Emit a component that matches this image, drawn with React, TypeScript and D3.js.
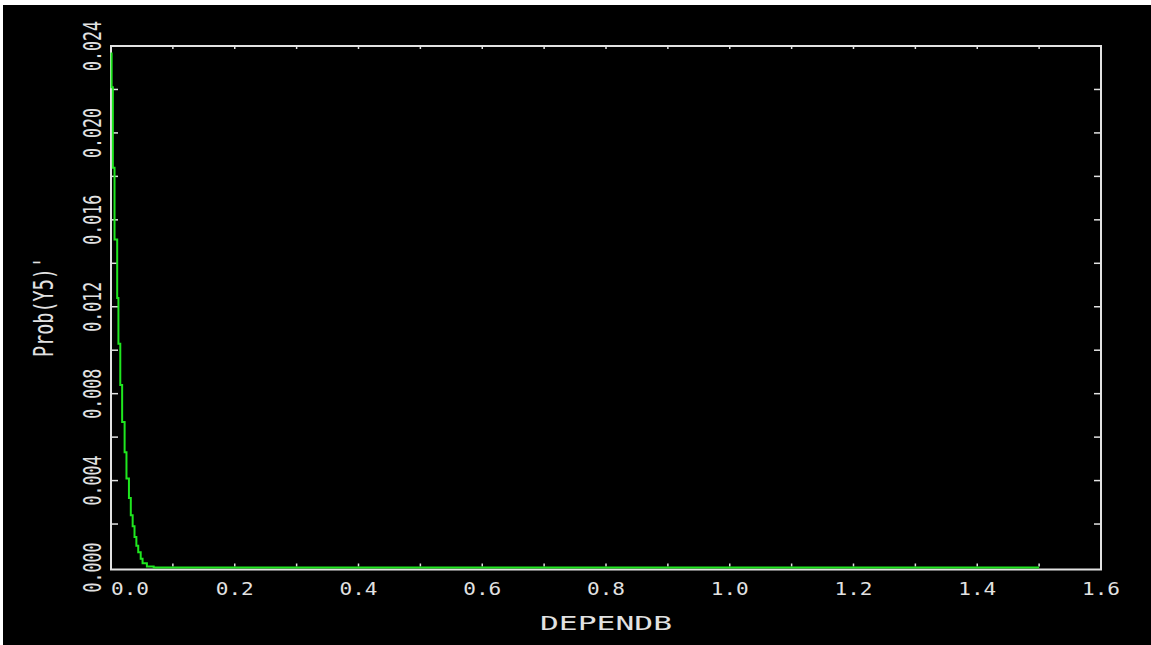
import React, { useRef, useEffect } from 'react';
import * as d3 from 'd3';

// stepped density (x in DEPENDB units, y = Prob(Y5)')
const curveX = [0.001, 0.001, 0.003, 0.0057, 0.010, 0.012, 0.015, 0.018, 0.022, 0.025, 0.029, 0.032, 0.035, 0.038, 0.041, 0.044, 0.048, 0.051, 0.058, 0.069, 1.5];
const curveY = [0.0237, 0.0221, 0.0184, 0.0151, 0.0124, 0.0103, 0.0084, 0.0067, 0.0053, 0.0041, 0.0032, 0.0024, 0.0019, 0.0014, 0.0010, 0.0007, 0.0004, 0.0002, 0.00005, 0, 0];

const xLabelTicks = [0, 0.2, 0.4, 0.6, 0.8, 1.0, 1.2, 1.4, 1.6];
const yLabelTicks = [0, 0.004, 0.008, 0.012, 0.016, 0.020, 0.024];
const xMinorTicks = [0.1, 0.2, 0.3, 0.4, 0.5, 0.6, 0.7, 0.8, 0.9, 1.0, 1.1, 1.2, 1.3, 1.4, 1.5];
const yMinorTicks = [0.002, 0.004, 0.006, 0.008, 0.010, 0.012, 0.014, 0.016, 0.018, 0.020, 0.022];

const xTitle = 'DEPENDB';
const yTitle = "Prob(Y5)'";

const FG = '#e2e2e2';
const GREEN = '#1fe61f';
const FONT = '"DejaVu Sans Mono", monospace';

const App: React.FC = () => {
  const svgRef = useRef<SVGSVGElement | null>(null);
  const width = 1151;
  const height = 645;

  useEffect(() => {
    if (!svgRef.current) return;
    const svg = d3.select(svgRef.current);
    svg.selectAll('*').remove();

    const left = 111, right = 1101, top = 46, bottom = 567.5;

    // page strip + black canvas
    svg.append('rect').attr('width', width).attr('height', height).attr('fill', '#fff');
    svg.append('rect').attr('x', 3).attr('y', 5).attr('width', width - 3).attr('height', height - 5).attr('fill', '#000');

    const x = d3.scaleLinear().domain([0, 1.6]).range([left, right]);
    const y = d3.scaleLinear().domain([0, 0.024]).range([bottom, top]);

    const g = svg.append('g');

    // Ticks on all four sides
    g.selectAll('.yt-l').data(yMinorTicks).enter().append('line')
      .attr('x1', left).attr('x2', left + 7)
      .attr('y1', d => y(d)).attr('y2', d => y(d))
      .attr('stroke', FG).attr('stroke-width', 1.5);
    g.selectAll('.yt-r').data(yMinorTicks).enter().append('line')
      .attr('x1', right - 7).attr('x2', right)
      .attr('y1', d => y(d)).attr('y2', d => y(d))
      .attr('stroke', FG).attr('stroke-width', 1.5);
    g.selectAll('.xt-t').data(xMinorTicks).enter().append('line')
      .attr('x1', d => x(d)).attr('x2', d => x(d))
      .attr('y1', top).attr('y2', top + 3)
      .attr('stroke', FG).attr('stroke-width', 1.5);
    g.selectAll('.xt-b').data(xMinorTicks).enter().append('line')
      .attr('x1', d => x(d)).attr('x2', d => x(d))
      .attr('y1', bottom - 1).attr('y2', bottom - 4)
      .attr('stroke', FG).attr('stroke-width', 1.5);

    // Frame
    g.append('path')
      .attr('d', `M${left},${top}H${right}V${bottom + 2}H${left}Z`)
      .attr('fill', 'none')
      .attr('stroke', FG)
      .attr('stroke-width', 2);

    // Curve
    const pts = curveX.map((d, i) => [d, curveY[i]] as [number, number]);
    const line = d3.line<[number, number]>()
      .x(d => x(d[0]))
      .y(d => y(d[1]))
      .curve(d3.curveStepAfter);
    g.append('path')
      .datum(pts)
      .attr('fill', 'none')
      .attr('stroke', GREEN)
      .attr('stroke-width', 2)
      .attr('d', line);

    // X tick labels
    g.selectAll('.xl').data(xLabelTicks).enter().append('text')
      .attr('x', d => x(d) + (d === 0 ? 19 : 0))
      .attr('y', 595)
      .attr('text-anchor', 'middle')
      .attr('fill', FG)
      .attr('font-family', FONT)
      .attr('font-size', 18)
      .attr('textLength', 38)
      .attr('lengthAdjust', 'spacingAndGlyphs')
      .text(d => d.toFixed(1));

    // Y tick labels (rotated)
    g.selectAll('.yl').data(yLabelTicks).enter().append('text')
      .attr('transform', d => `translate(101,${y(d)}) rotate(-90)`)
      .attr('text-anchor', 'middle')
      .attr('fill', FG)
      .attr('font-family', FONT)
      .attr('font-size', 25)
      .attr('textLength', 50)
      .attr('lengthAdjust', 'spacingAndGlyphs')
      .text(d => d.toFixed(3));

    // Axis titles
    g.append('text')
      .attr('x', 606)
      .attr('y', 630)
      .attr('text-anchor', 'middle')
      .attr('fill', FG)
      .attr('font-family', FONT)
      .attr('font-size', 20)
      .attr('textLength', 132)
      .attr('lengthAdjust', 'spacingAndGlyphs')
      .text(xTitle);

    g.append('text')
      .attr('transform', 'translate(53,307) rotate(-90)')
      .attr('text-anchor', 'middle')
      .attr('fill', FG)
      .attr('font-family', FONT)
      .attr('font-size', 27)
      .attr('textLength', 100)
      .attr('lengthAdjust', 'spacingAndGlyphs')
      .text(yTitle);
  }, []);

  return (
    <svg
      ref={svgRef}
      width={width}
      height={height}
      style={{ position: 'fixed', left: 0, top: 0, display: 'block' }}
    />
  );
};

export default App;
